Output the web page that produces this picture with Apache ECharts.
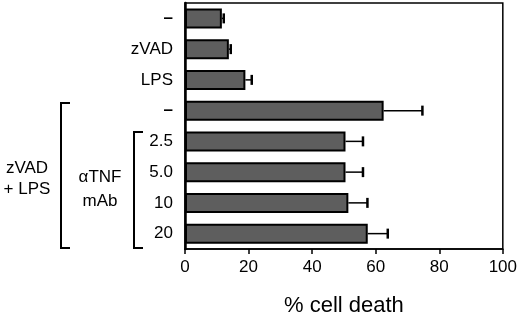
<!DOCTYPE html>
<html>
<head>
<meta charset="utf-8">
<script src="https://cdn.jsdelivr.net/npm/echarts@6/dist/echarts.min.js"></script>
<style>
  html, body { margin: 0; padding: 0; background: #fff; }
  #main { width: 520px; height: 322px; }
</style>
</head>
<body>
<div id="main"></div>
<script>
// rows, top to bottom
const categories = ["–", "zVAD", "LPS", "–", "2.5", "5.0", "10", "20"];
// mean % cell death
const deathMean = [11.6, 13.8, 19.0, 62.5, 50.5, 50.5, 51.4, 57.5];
// upper end of error bar
const deathErr = [12.2, 14.4, 21.0, 74.7, 56.0, 56.0, 57.4, 63.8];
const xTicks = [0, 20, 40, 60, 80, 100];

const font = "Liberation Sans, Arial, sans-serif";
const chart = echarts.init(document.getElementById("main"));

const errData = deathMean.map((v, i) => [v, deathErr[i], i]);

chart.setOption({
  animation: false,
  grid: {
    left: 185,
    right: 14,
    top: 3,
    bottom: 68,
    show: true,
    borderColor: "#000",
    borderWidth: 1.5,
  },
  xAxis: {
    type: "value",
    min: xTicks[0],
    max: xTicks[xTicks.length - 1],
    interval: 20,
    splitLine: { show: false },
    axisLine: { show: true, lineStyle: { color: "#000", width: 1.5 } },
    axisTick: { show: true, length: 5, lineStyle: { color: "#000", width: 1.5 } },
    axisLabel: { color: "#000", fontSize: 17, fontFamily: font, margin: 10 },
    name: "% cell death",
    nameLocation: "middle",
    nameGap: 46,
    nameTextStyle: { color: "#000", fontSize: 22, fontFamily: font },
  },
  yAxis: {
    type: "category",
    inverse: true,
    data: categories,
    axisLine: { show: true, lineStyle: { color: "#000", width: 2.5 } },
    axisTick: { show: false },
    axisLabel: {
      color: "#000",
      fontSize: 17,
      fontFamily: font,
      margin: 12,
      // the dash rows are drawn heavier, like the original
      formatter: (v) => (v === "–" ? "{d|–}" : v),
      rich: { d: { fontSize: 17, fontWeight: "bold", fontFamily: font, color: "#000" } },
    },
  },
  series: [
    {
      type: "bar",
      data: deathMean,
      barWidth: 20,
      itemStyle: { color: "#5e5e5e", borderColor: "#000", borderWidth: 2 },
      z: 2,
    },
    {
      type: "custom",
      data: errData,
      encode: { x: [0, 1], y: 2 },
      z: 3,
      renderItem: (params, api) => {
        const start = api.coord([api.value(0), api.value(2)]);
        const end = api.coord([api.value(1), api.value(2)]);
        return {
          type: "group",
          children: [
            {
              type: "line",
              shape: { x1: start[0], y1: start[1], x2: end[0], y2: end[1] },
              style: { stroke: "#000", lineWidth: 1.5 },
            },
            {
              type: "line",
              shape: { x1: end[0], y1: end[1] - 5, x2: end[0], y2: end[1] + 5 },
              style: { stroke: "#000", lineWidth: 2.5 },
            },
          ],
        };
      },
    },
  ],
  graphic: [
    // outer bracket
    {
      type: "polyline",
      shape: { points: [[70, 103], [61, 103], [61, 248], [70, 248]] },
      style: { stroke: "#000", lineWidth: 2, fill: null },
    },
    // inner bracket
    {
      type: "polyline",
      shape: { points: [[143, 132], [134, 132], [134, 248], [143, 248]] },
      style: { stroke: "#000", lineWidth: 2, fill: null },
    },
    {
      type: "text",
      x: 27,
      y: 179,
      style: {
        text: "zVAD\n+ LPS",
        font: "17px " + font,
        fill: "#000",
        align: "center",
        verticalAlign: "middle",
        lineHeight: 21,
      },
    },
    {
      type: "text",
      x: 100,
      y: 189,
      style: {
        text: "αTNF\nmAb",
        font: "17px " + font,
        fill: "#000",
        align: "center",
        verticalAlign: "middle",
        lineHeight: 24,
      },
    },
  ],
});
</script>
</body>
</html>
